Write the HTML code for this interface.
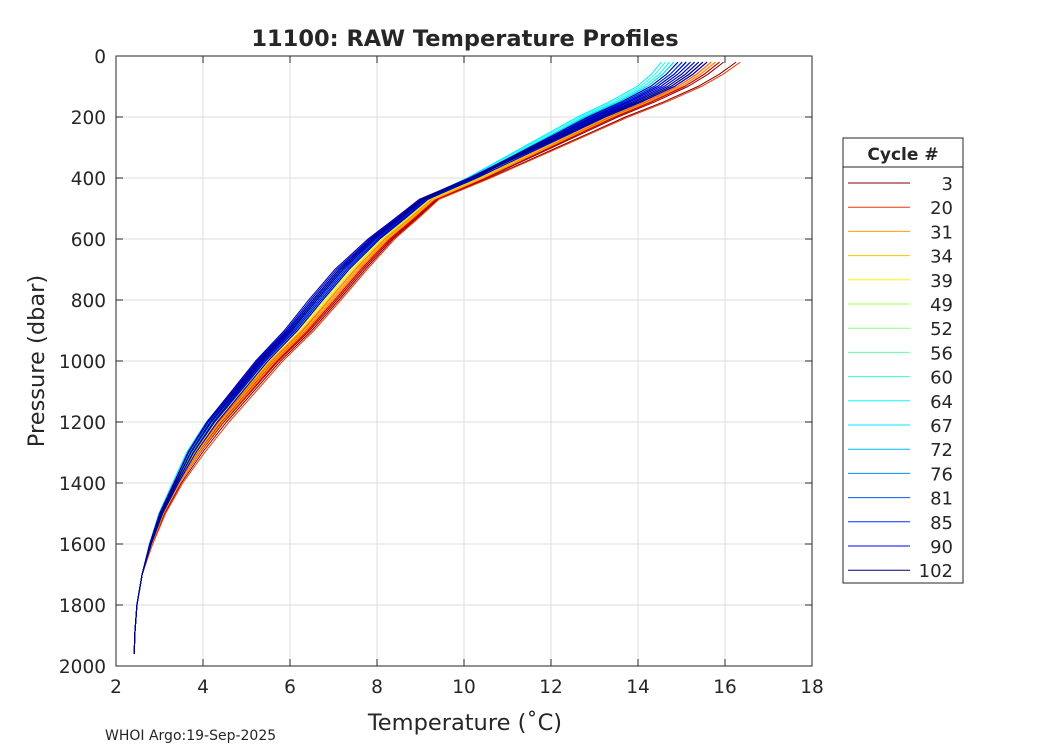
<!DOCTYPE html>
<html><head><meta charset="utf-8"><style>
body{margin:0;background:#fff;}
svg text{font-family:"DejaVu Sans","Liberation Sans",sans-serif;fill:#262626;}
</style></head><body>
<svg id="chart" width="1050" height="750" xmlns="http://www.w3.org/2000/svg">
<rect width="1050" height="750" fill="#fff"/>
<g id="grid"></g>
<g id="lines"></g>
<rect x="116" y="56" width="696" height="610" fill="none" stroke="#262626" stroke-width="1"/>
<g id="ticks"></g>
<text x="465" y="46" text-anchor="middle" font-size="22.5" font-weight="bold" fill="#000">11100: RAW Temperature Profiles</text>
<text x="465" y="730" text-anchor="middle" font-size="22.5">Temperature (˚C)</text>
<text transform="translate(44,361) rotate(-90)" text-anchor="middle" font-size="22.5">Pressure (dbar)</text>
<text x="105" y="740" font-size="14" fill="#000">WHOI Argo:19-Sep-2025</text>
<g id="legend">
<rect x="843" y="138" width="120" height="445" fill="#fff" stroke="#262626"/>
<line x1="843" y1="167" x2="963" y2="167" stroke="#262626"/>
<text x="903" y="160" text-anchor="middle" font-size="17" font-weight="bold" fill="#000">Cycle #</text>
</g>
</svg>
<script>
const xTicks=[2,4,6,8,10,12,14,16,18];
const yTicks=[0,200,400,600,800,1000,1200,1400,1600,1800,2000];
const pressures=[20,60,100,150,200,250,300,350,400,470,530,600,700,800,900,1000,1100,1200,1300,1400,1500,1600,1700,1800,1900,1960];
const baseTemps=[15.3,15.0,14.6,13.9,13.1,12.4,11.7,11.0,10.3,9.2,8.7,8.1,7.4,6.8,6.2,5.5,4.9,4.3,3.8,3.4,3.05,2.8,2.6,2.48,2.43,2.42];
const cycles=[3,5,7,9,11,13,15,17,20,22,24,26,28,31,34,36,39,42,45,49,52,54,56,58,60,62,64,66,67,69,72,74,76,78,80,81,83,84,85,87,88,90,92,93,94,96,97,98,100,101,102];
const upperShift=[1.0,0.7,0.6,0.5,0.6,0.4,0.5,0.3,1.1,0.4,0.3,0.4,0.2,0.5,0.3,0.2,0.1,0,-0.1,-0.3,-0.4,-0.5,-0.3,-0.6,-0.5,-0.7,-0.6,-0.4,-0.8,-0.5,-0.3,-0.2,-0.4,-0.1,-0.3,0,-0.2,0.2,0.1,-0.3,-0.1,0.2,-0.1,0.3,0,0.3,-0.2,-0.2,0.1,-0.4,0.2];
const midShift=[0.35,0.3,0.25,0.3,0.2,0.25,0.15,0.2,0.4,0.15,0.1,0.2,0.1,0.2,0.15,0.05,0,-0.05,0,-0.1,-0.15,-0.1,-0.2,-0.15,-0.2,-0.25,-0.15,-0.2,-0.3,-0.2,-0.15,-0.25,-0.2,-0.3,-0.1,-0.25,-0.35,-0.05,-0.2,-0.3,-0.15,-0.25,-0.35,-0.1,-0.2,-0.3,-0.05,-0.25,-0.4,-0.2,-0.3];
const deepShift=[0.15,0.1,0.05,0.1,0.05,0.1,0,0.05,0.2,0,0.05,0.1,0,0.1,0.05,0,-0.05,0,-0.05,-0.1,-0.05,-0.1,-0.1,-0.05,-0.1,-0.1,-0.05,-0.1,-0.15,-0.05,0,-0.1,-0.05,-0.1,0,-0.05,-0.1,0.05,-0.05,-0.1,0,-0.05,-0.1,0,-0.05,-0.1,0.05,-0.05,-0.1,0,-0.05];
const legendCycles=[3,20,31,34,39,49,52,56,60,64,67,72,76,81,85,90,102];
const X0=116,X1=812,Y0=56,Y1=666;
const xs=t=>X0+(t-2)/16*(X1-X0);
const ys=p=>Y0+p/2000*(Y1-Y0);
const NS='http://www.w3.org/2000/svg';
function mk(tag,attrs,parent){const e=document.createElementNS(NS,tag);for(const k in attrs)e.setAttribute(k,attrs[k]);parent.appendChild(e);return e;}
function jet(v){const r=Math.min(Math.max(Math.min(4*v-1.5,-4*v+4.5),0),1);const g=Math.min(Math.max(Math.min(4*v-0.5,-4*v+3.5),0),1);const b=Math.min(Math.max(Math.min(4*v+0.5,-4*v+2.5),0),1);return `rgb(${Math.round(r*255)},${Math.round(g*255)},${Math.round(b*255)})`;}
const cmin=cycles[0],cmax=cycles[cycles.length-1];
const colorFor=c=>jet(1-(c-cmin)/(cmax-cmin));
const grid=document.getElementById('grid'),ticks=document.getElementById('ticks');
xTicks.forEach(t=>{
 const g=mk('line',{x1:xs(t),x2:xs(t),y1:Y0,y2:Y1,stroke:'#dcdcdc'},grid);
 
 
 mk('line',{x1:xs(t),x2:xs(t),y1:Y1,y2:Y1-7,stroke:'#262626'},ticks);
 mk('line',{x1:xs(t),x2:xs(t),y1:Y0,y2:Y0+7,stroke:'#262626'},ticks);
 const l=mk('text',{x:xs(t),y:Y1+27,'text-anchor':'middle','font-size':'18.5'},ticks);l.textContent=t;
 
 
});
yTicks.forEach(p=>{
 const g=mk('line',{x1:X0,x2:X1,y1:ys(p),y2:ys(p),stroke:'#dcdcdc'},grid);
 
 
 mk('line',{x1:X0,x2:X0+7,y1:ys(p),y2:ys(p),stroke:'#262626'},ticks);
 mk('line',{x1:X1,x2:X1-7,y1:ys(p),y2:ys(p),stroke:'#262626'},ticks);
 const l=mk('text',{x:X0-10,y:ys(p)+7,'text-anchor':'end','font-size':'18.5'},ticks);l.textContent=p;
 
 
});
const lines=document.getElementById('lines');
cycles.forEach((c,i)=>{
 const pts=pressures.map((p,j)=>{
  const wu=Math.max(0,1-p/450),wm=Math.max(0,1-Math.abs(p-750)/650),wd=Math.max(0,1-Math.abs(p-1250)/450);
  return xs(baseTemps[j]+upperShift[i]*wu+midShift[i]*wm+deepShift[i]*wd).toFixed(1)+','+ys(p).toFixed(1);
 }).join(' ');
 const pl=mk('polyline',{points:pts,fill:'none',stroke:colorFor(c),'stroke-width':'1'},lines);
 
 
});
const leg=document.getElementById('legend');
legendCycles.forEach((c,i)=>{
 const y=183+i*24.2;
 const ln=mk('line',{x1:848,x2:910,y1:y,y2:y,stroke:colorFor(c)},leg);
 
 
 const t=mk('text',{x:953,y:y+7,'text-anchor':'end','font-size':'18'},leg);t.textContent=c;
 
 
});
</script>
</body></html>
